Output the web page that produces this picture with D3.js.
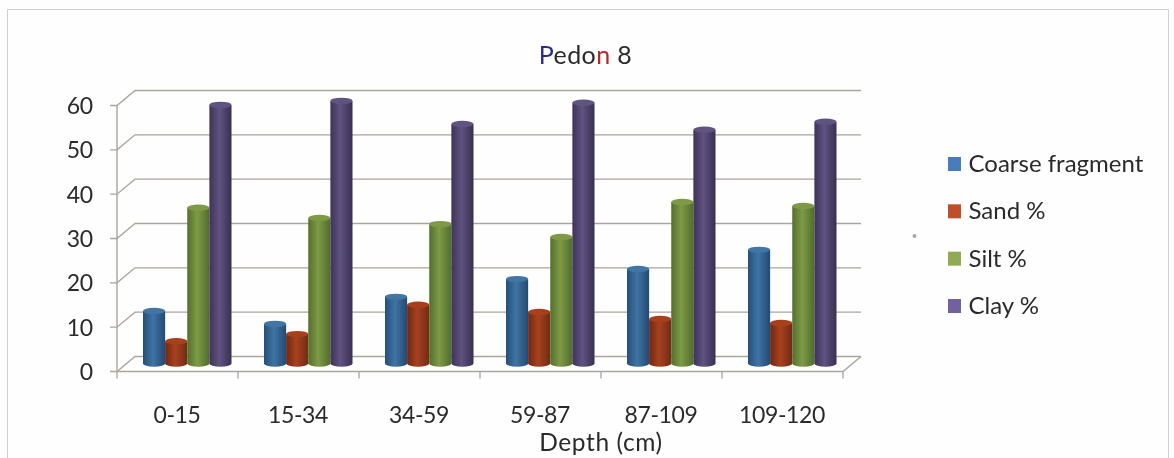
<!DOCTYPE html>
<html><head><meta charset="utf-8">
<script src="https://cdn.jsdelivr.net/npm/d3@7"></script>
<style>html,body{margin:0;padding:0;background:#fefefe;overflow:hidden}svg{display:block}text{font-family:Lato,"Open Sans",sans-serif;fill:#2b2b2b}</style>
</head><body><svg id="c" width="1174" height="458"></svg>
<script>
const title = "Pedon 8";
const xTitle = "Depth (cm)";
const categories = ["0-15","15-34","34-59","59-87","87-109","109-120"];
const seriesNames = ["Coarse fragment","Sand %","Silt %","Clay %"];
const coarse = [12.4,9.5,15.6,19.6,21.9,26.2];
const sand = [5.6,7.2,13.8,12.2,10.6,9.7];
const silt = [35.7,33.4,32,29.1,37,36.1];
const clay = [58.9,59.8,54.6,59.4,53.3,55.1];
const yTicks = [0,10,20,30,40,50,60];
const seriesValues = [coarse,sand,silt,clay];
const legendColors = ["#4a7cbc","#bd4f2c","#90ab52","#72609f"];
const barStops = [["#264f78","#3f74a4","#234a72"],["#6f2812","#a8411f","#6f2c16"],["#53702c","#7f9a46","#506c2c"],["#3e3358","#5f5380","#3a2f52"]];

const svg = d3.select("#c");
const defs = svg.append("defs");
defs.append("filter").attr("id","soft").attr("x","-2%").attr("y","-2%").attr("width","104%").attr("height","104%")
  .append("feGaussianBlur").attr("stdDeviation",0.7);
barStops.forEach((s,i)=>{
  const g = defs.append("linearGradient").attr("id","g"+i).attr("x1",0).attr("x2",1).attr("y1",0).attr("y2",0);
  [0,0.45,1].forEach((o,k)=>g.append("stop").attr("offset",o).attr("stop-color",s[k]));
});
const root = svg.append("g").attr("filter","url(#soft)");

const left=117,right=843,frontBase=371.5,frontTop=105.5,dx=18,dy=-15;
const x = d3.scaleBand().domain(categories).range([left,right]);
const y = d3.scaleLinear().domain([0,60]).range([frontBase,frontTop]);
const barBase = 366, barFoot = 363.5, k = (frontBase-frontTop)/60;
const yBar = d3.scaleLinear().domain([0,60]).range([barBase,barBase-60*k]);
const bar = d3.scaleBand().domain(d3.range(seriesNames.length)).range([0,88.5]);
const grid="#a9a69c";

// outer frame
root.append("path").attr("d","M7.5 458V9.5H1168.5V458").attr("fill","none").attr("stroke","#cfcfcb").attr("stroke-width",1);
root.append("circle").attr("cx",914.5).attr("cy",236).attr("r",2).attr("fill","#a8a8a8");

// walls and gridlines
yTicks.forEach(t=>{
  root.append("path").attr("d",`M${left-7} ${y(t)}H${left}l${dx} ${dy}H${right+dx}`)
    .attr("fill","none").attr("stroke",grid).attr("stroke-width",1.4);
  root.append("text").attr("x",93).attr("y",y(t)+8.5).attr("text-anchor","end").attr("font-size",23).attr("letter-spacing",-0.2).text(t);
});
root.append("path").attr("d",`M${left} ${frontBase}V${frontTop}M${left} ${frontBase}H${right}l${dx} ${dy}`)
  .attr("fill","none").attr("stroke",grid).attr("stroke-width",1.4);
[...categories.map(c=>x(c)),right].forEach(px=>{
  root.append("path").attr("d",`M${px} ${frontBase}v7`).attr("stroke",grid).attr("stroke-width",1.3);
});

// cylinders
categories.forEach((c,ci)=>{
  seriesValues.forEach((vals,si)=>{
    const bw=bar.bandwidth(), x0=x(c)+26+bar(si), t=yBar(vals[ci]), rx=bw/2, ry=3.2;
    const g=root.append("g");
    g.append("path").attr("d",`M${x0} ${t}V${barFoot}A${rx} ${ry} 0 0 0 ${x0+bw} ${barFoot}V${t}Z`).attr("fill",`url(#g${si})`);
    g.append("ellipse").attr("cx",x0+rx).attr("cy",t).attr("rx",rx).attr("ry",ry).attr("fill",barStops[si][1]);
  });
  root.append("text").attr("x",x(c)+60).attr("y",423).attr("text-anchor","middle").attr("font-size",23).attr("letter-spacing",-0.4).text(c);
});

// titles
const tt=root.append("text").attr("x",585.5).attr("y",64).attr("text-anchor","middle").attr("font-size",25).attr("letter-spacing",0.4);
Array.from(title).forEach((ch,i)=>tt.append("tspan").style("fill",ch==="P"?"#2a2a90":(ch==="n"?"#b02a2a":"#2b2b2b")).text(ch));
root.append("text").attr("x",601).attr("y",451).attr("text-anchor","middle").attr("font-size",24.5).attr("letter-spacing",0.6).text(xTitle);

// legend
const ly=d3.scalePoint().domain(seriesNames).range([164,306]);
seriesNames.forEach((n,i)=>{
  root.append("rect").attr("x",948).attr("y",ly(n)-7).attr("width",13).attr("height",14).attr("fill",legendColors[i]);
  root.append("text").attr("x",968.5).attr("y",ly(n)+8).attr("font-size",24).text(n);
});
</script></body></html>
